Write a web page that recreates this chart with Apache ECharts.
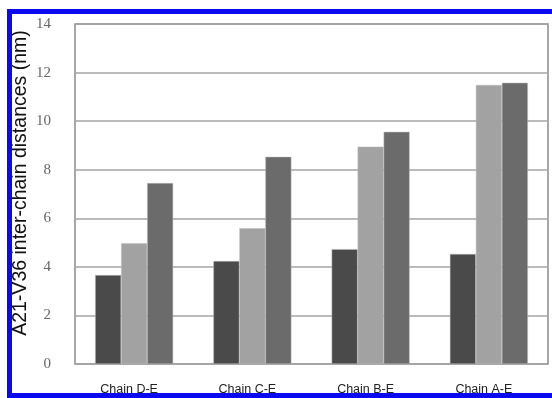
<!DOCTYPE html>
<html>
<head>
<meta charset="utf-8">
<script src="https://cdn.jsdelivr.net/npm/echarts@6/dist/echarts.min.js"></script>
<style>
  html, body { margin: 0; padding: 0; background: #fff; }
  #chart { width: 552px; height: 398px; }
</style>
</head>
<body>
<div id="chart"></div>
<script>
// Chain pairs along the x axis
const categories = ['Chain D-E', 'Chain C-E', 'Chain B-E', 'Chain A-E'];
// Three distance series per chain pair (nm)
const seriesA = [3.66, 4.24, 4.73, 4.53];
const seriesB = [4.97, 5.59, 8.95, 11.49];
const seriesC = [7.45, 8.53, 9.56, 11.58];
// Y axis range
const yMin = 0, yMax = 14, yStep = 2;

const colors = ['#4a4a4a', '#a2a2a2', '#6b6b6b'];
const values = [seriesA, seriesB, seriesC];

const chart = echarts.init(document.getElementById('chart'), null, { renderer: 'canvas' });
chart.setOption({
  animation: false,
  backgroundColor: '#ffffff',
  grid: {
    left: 75, right: 4, top: 24, bottom: 34,
    show: true, borderColor: '#8a8a8a', borderWidth: 1.5,
    containLabel: false,
    outerBoundsMode: 'none'
  },
  xAxis: {
    type: 'category',
    data: categories,
    axisLine: { show: false },
    axisTick: { show: false },
    axisLabel: {
      margin: 19, fontSize: 12.5, color: '#222',
      padding: [0, 10, 0, 0],
      fontFamily: 'Liberation Sans, Arial, sans-serif'
    }
  },
  yAxis: {
    type: 'value',
    min: yMin, max: yMax, interval: yStep,
    name: 'A21-V36 inter-chain distances (nm)',
    nameLocation: 'middle',
    nameGap: 44,
    nameMoveOverlap: false,
    nameTextStyle: {
      fontSize: 19.5, color: '#111',
      padding: [0, 0, 0, 22],
      fontFamily: 'Liberation Sans, Arial, sans-serif'
    },
    axisLine: { show: false },
    axisTick: { show: false },
    axisLabel: {
      margin: 24, fontSize: 15, color: '#666',
      fontFamily: 'Liberation Serif, Times New Roman, serif'
    },
    splitLine: { lineStyle: { color: '#a4a4a4', width: 1.5 } }
  },
  series: values.map((v, i) => ({
    type: 'bar',
    data: v,
    barWidth: 26,
    barGap: '0%',
    itemStyle: { color: colors[i], borderColor: '#bdbdbd', borderWidth: 0.5 }
  })),
  graphic: [{
    type: 'rect',
    z: 100,
    silent: true,
    shape: { x: 9.5, y: 11.5, width: 547, height: 384 },
    style: { fill: 'none', stroke: '#0a0af0', lineWidth: 5 }
  }]
});
</script>
</body>
</html>
